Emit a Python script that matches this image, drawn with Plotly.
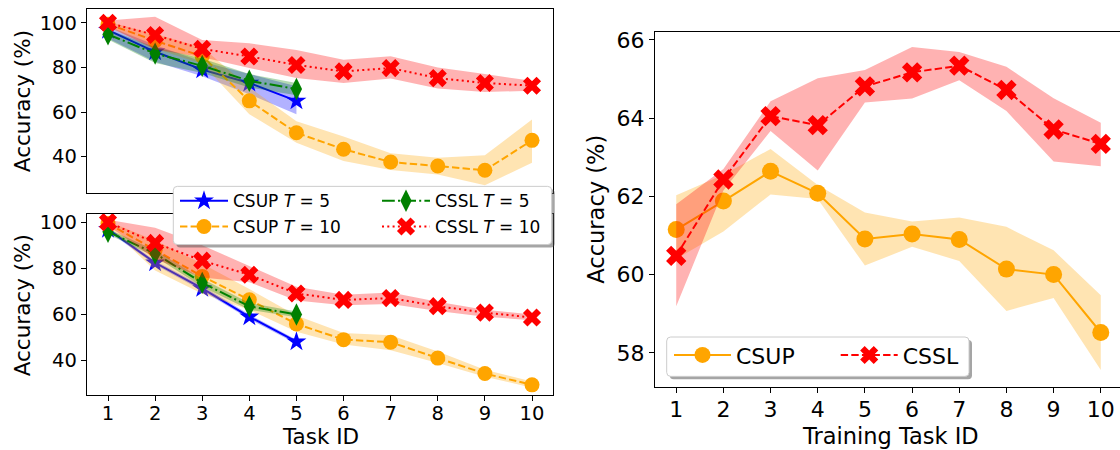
import plotly.graph_objects as go

# ---------------- data ----------------
task_ids_10 = [1, 2, 3, 4, 5, 6, 7, 8, 9, 10]
task_ids_5 = [1, 2, 3, 4, 5]

# top-left panel
top_csup5 = [96.7, 87.0, 79.0, 73.0, 65.0]
top_csup5_lo = [93.0, 82.5, 76.0, 68.0, 59.0]
top_csup5_hi = [98.5, 90.0, 82.5, 77.0, 71.5]
top_cssl5 = [94.8, 86.2, 80.7, 74.0, 70.3]
top_cssl5_lo = [92.5, 82.0, 77.5, 71.0, 67.5]
top_cssl5_hi = [97.0, 89.0, 84.0, 77.0, 73.0]
top_csup10 = [99.4, 92.0, 85.0, 65.0, 50.7, 43.3, 37.6, 35.8, 33.9, 47.3]
top_csup10_lo = [98.0, 88.5, 81.5, 59.0, 46.2, 38.0, 34.0, 32.0, 27.2, 37.3]
top_csup10_hi = [100.5, 95.0, 89.0, 71.0, 55.9, 49.0, 41.5, 39.5, 40.6, 56.6]
top_cssl10 = [100.0, 94.5, 88.3, 84.9, 81.1, 78.2, 79.7, 75.2, 73.0, 71.8]
top_cssl10_lo = [98.5, 88.0, 84.5, 79.7, 75.2, 73.0, 75.0, 70.5, 69.0, 69.5]
top_cssl10_hi = [101.0, 102.7, 92.3, 90.8, 87.8, 83.4, 85.0, 80.0, 77.0, 74.0]

# bottom-left panel
bot_csup5 = [96.9, 82.4, 71.3, 59.0, 48.2]
bot_csup5_lo = [96.0, 81.5, 70.3, 58.0, 47.3]
bot_csup5_hi = [97.8, 83.3, 72.3, 60.0, 49.1]
bot_cssl5 = [95.8, 86.4, 73.7, 63.5, 60.0]
bot_cssl5_lo = [94.8, 85.0, 72.0, 62.0, 58.8]
bot_cssl5_hi = [97.0, 87.8, 75.5, 65.0, 61.3]
bot_csup10 = [99.4, 87.8, 76.5, 66.4, 55.9, 49.1, 48.0, 41.1, 34.4, 29.5]
bot_csup10_lo = [98.3, 79.0, 69.0, 62.0, 52.5, 47.0, 44.5, 39.0, 33.0, 28.3]
bot_csup10_hi = [100.4, 92.0, 82.0, 71.0, 59.5, 52.0, 51.0, 44.0, 36.0, 31.0]
bot_cssl10 = [100.0, 91.0, 83.3, 77.2, 69.1, 66.3, 67.1, 63.6, 60.8, 58.7]
bot_cssl10_lo = [98.5, 84.0, 76.0, 74.0, 66.0, 64.0, 64.5, 61.5, 59.0, 57.5]
bot_cssl10_hi = [101.0, 97.6, 90.0, 81.0, 72.0, 68.5, 69.5, 65.5, 62.0, 60.0]

# right panel
right_csup = [61.15, 61.88, 62.64, 62.08, 60.91, 61.04, 60.90, 60.14, 60.00, 58.52]
right_csup_lo = [60.40, 61.10, 62.05, 61.93, 60.23, 60.71, 60.35, 59.07, 59.40, 57.56]
right_csup_hi = [62.03, 62.55, 63.21, 62.29, 61.59, 61.36, 61.46, 61.22, 60.62, 59.47]
right_cssl = [60.48, 62.43, 64.05, 63.82, 64.81, 65.17, 65.34, 64.72, 63.71, 63.34]
right_cssl_lo = [59.19, 62.15, 63.67, 62.66, 64.40, 64.50, 64.97, 64.18, 62.89, 62.77]
right_cssl_hi = [61.80, 62.70, 64.43, 65.02, 65.23, 65.82, 65.69, 65.31, 64.51, 63.88]

left_yticks = [40, 60, 80, 100]
right_yticks = [58, 60, 62, 64, 66]

label_csup5 = "CSUP <i>T</i> = 5"
label_csup10 = "CSUP <i>T</i> = 10"
label_cssl5 = "CSSL <i>T</i> = 5"
label_cssl10 = "CSSL <i>T</i> = 10"

# ---------------- styling ----------------
W, H = 1120, 450
FONT = "DejaVu Sans"
BLUE, ORANGE, GREEN, RED = "#0000ff", "#ffa500", "#008000", "#ff0000"
FILL = {BLUE: "rgba(0,0,255,0.3)", ORANGE: "rgba(255,165,0,0.3)",
        GREEN: "rgba(0,128,0,0.3)", RED: "rgba(255,0,0,0.3)"}


def px_x(p):
    return p / W


def px_y(p):
    return 1 - p / H


fig = go.Figure()


def band(x, lo, hi, color, xa, ya):
    fig.add_trace(go.Scatter(
        x=list(x) + list(x)[::-1], y=list(hi) + list(lo)[::-1],
        fill="toself", fillcolor=FILL[color], line=dict(width=0),
        mode="lines", hoverinfo="skip", showlegend=False, xaxis=xa, yaxis=ya))


def series(x, y, color, dash, symbol, size, name, xa, ya, legend, show):
    fig.add_trace(go.Scatter(
        x=x, y=y, mode="lines+markers", name=name,
        line=dict(color=color, width=2, dash=dash),
        marker=dict(color=color, symbol=symbol, size=size, line=dict(width=0)),
        xaxis=xa, yaxis=ya, legend=legend, showlegend=show))


DASHED = "7.4px,3.2px"
DOTTED = "2px,3.3px"
DASHDOT = "12.8px,3.2px,2px,3.2px"

for (xa, ya, c5, c5l, c5h, s5, s5l, s5h, c10, c10l, c10h, s10, s10l, s10h, show) in [
    ("x", "y", top_csup5, top_csup5_lo, top_csup5_hi, top_cssl5, top_cssl5_lo, top_cssl5_hi,
     top_csup10, top_csup10_lo, top_csup10_hi, top_cssl10, top_cssl10_lo, top_cssl10_hi, False),
    ("x2", "y2", bot_csup5, bot_csup5_lo, bot_csup5_hi, bot_cssl5, bot_cssl5_lo, bot_cssl5_hi,
     bot_csup10, bot_csup10_lo, bot_csup10_hi, bot_cssl10, bot_cssl10_lo, bot_cssl10_hi, True),
]:
    series(task_ids_5, c5, BLUE, "solid", "star", 15, label_csup5, xa, ya, "legend", show)
    band(task_ids_5, c5l, c5h, BLUE, xa, ya)
    series(task_ids_10, c10, ORANGE, DASHED, "circle", 15, label_csup10, xa, ya, "legend2", show)
    band(task_ids_10, c10l, c10h, ORANGE, xa, ya)
    series(task_ids_5, s5, GREEN, DASHDOT, "diamond-tall", 16, label_cssl5, xa, ya, "legend3", show)
    band(task_ids_5, s5l, s5h, GREEN, xa, ya)
    series(task_ids_10, s10, RED, DOTTED, "x", 16, label_cssl10, xa, ya, "legend4", show)
    band(task_ids_10, s10l, s10h, RED, xa, ya)

series(task_ids_10, right_csup, ORANGE, "solid", "circle", 17, "CSUP", "x3", "y3", "legend5", True)
band(task_ids_10, right_csup_lo, right_csup_hi, ORANGE, "x3", "y3")
series(task_ids_10, right_cssl, RED, DASHED, "x", 18, "CSSL", "x3", "y3", "legend6", True)
band(task_ids_10, right_cssl_lo, right_cssl_hi, RED, "x3", "y3")

axis_common = dict(showline=True, linecolor="black", linewidth=1, ticks="outside",
                   ticklen=5, tickwidth=1, tickcolor="black", showgrid=False,
                   zeroline=False, fixedrange=True)

left_dom_x = [px_x(86.8), px_x(553.2)]
top_dom_y = [px_y(190.7), px_y(5)]
bot_dom_y = [px_y(395), px_y(211.7)]
right_dom_x = [px_x(655), 1.0]
right_dom_y = [px_y(386.7), px_y(28.3)]

lf = dict(family=FONT, size=19.5, color="black")
rf = dict(family=FONT, size=22, color="black")

fig.update_layout(
    width=W, height=H, margin=dict(l=0, r=0, t=0, b=0),
    paper_bgcolor="white", plot_bgcolor="white", font=dict(family=FONT, color="black"),
    xaxis=dict(axis_common, domain=left_dom_x, range=[0.55, 10.45], anchor="y",
               mirror=True, ticks="", showticklabels=False),
    yaxis=dict(axis_common, domain=top_dom_y, range=[23.7, 106.2], anchor="x",
               mirror=True, tickvals=left_yticks, tickfont=lf),
    xaxis2=dict(axis_common, domain=left_dom_x, range=[0.55, 10.45], anchor="y2",
                mirror=True, tickvals=task_ids_10, tickfont=lf, ticklabelstandoff=-5),
    yaxis2=dict(axis_common, domain=bot_dom_y, range=[24.9, 103.6], anchor="x2",
                mirror=True, tickvals=left_yticks, tickfont=lf),
    xaxis3=dict(axis_common, domain=right_dom_x, range=[0.55, 0.55 + 9.9 * 465 / 467],
                anchor="y3", mirror=True, tickvals=task_ids_10, tickfont=rf,
                ticklabelstandoff=-3),
    yaxis3=dict(axis_common, domain=right_dom_y, range=[57.12, 66.2], anchor="x3",
                mirror=False, tickvals=right_yticks, tickfont=rf),
)

# legends: one per entry, placed to mimic matplotlib's boxed legends
leg_common = dict(orientation="v", xanchor="left", yanchor="middle",
                  bgcolor="rgba(0,0,0,0)", borderwidth=0, tracegroupgap=0)
lfont = dict(family=FONT, size=17, color="black")
rfont = dict(family=FONT, size=22, color="black")
fig.update_layout(
    legend=dict(leg_common, x=px_x(175), y=px_y(199), font=lfont, itemwidth=48),
    legend2=dict(leg_common, x=px_x(175), y=px_y(225), font=lfont, itemwidth=48),
    legend3=dict(leg_common, x=px_x(377), y=px_y(199), font=lfont, itemwidth=48),
    legend4=dict(leg_common, x=px_x(377), y=px_y(225), font=lfont, itemwidth=48),
    legend5=dict(leg_common, x=px_x(669), y=px_y(354.3), font=rfont, itemwidth=57),
    legend6=dict(leg_common, x=px_x(835.7), y=px_y(354.3), font=rfont, itemwidth=57),
)


def rounded(x0, y0, x1, y1, r=4):
    rx, ry = r / W, r / H
    X0, X1 = px_x(x0), px_x(x1)
    Y0, Y1 = px_y(y0), px_y(y1)  # Y0 top, Y1 bottom
    return (f"M{X0 + rx},{Y0} L{X1 - rx},{Y0} Q{X1},{Y0} {X1},{Y0 - ry} "
            f"L{X1},{Y1 + ry} Q{X1},{Y1} {X1 - rx},{Y1} L{X0 + rx},{Y1} "
            f"Q{X0},{Y1} {X0},{Y1 + ry} L{X0},{Y0 - ry} Q{X0},{Y0} {X0 + rx},{Y0} Z")


shapes = []
for (x0, y0, x1, y1) in [(173.3, 184, 551.7, 242.7), (666.7, 336, 969, 375.7)]:
    shapes.append(dict(type="path", path=rounded(x0 + 3, y0 + 3, x1 + 3, y1 + 3),
                       xref="paper", yref="paper", fillcolor="rgba(76,76,76,0.5)",
                       line=dict(width=0), layer="above"))
    shapes.append(dict(type="path", path=rounded(x0, y0, x1, y1),
                       xref="paper", yref="paper", fillcolor="white",
                       line=dict(color="#cccccc", width=1), layer="above"))
fig.update_layout(shapes=shapes)

ann = []
tf_l = dict(family=FONT, size=21.5, color="black")
tf_r = dict(family=FONT, size=22.5, color="black")
ann.append(dict(text="Accuracy (%)", x=px_x(22), y=px_y(98), textangle=-90, font=tf_l))
ann.append(dict(text="Accuracy (%)", x=px_x(22), y=px_y(304), textangle=-90, font=tf_l))
ann.append(dict(text="Task ID", x=px_x(320), y=px_y(436), font=tf_l))
ann.append(dict(text="Accuracy (%)", x=px_x(596), y=px_y(207.5), textangle=-90, font=tf_r))
ann.append(dict(text="Training Task ID", x=px_x(890), y=px_y(435.5), font=tf_r))
for a in ann:
    a.update(xref="paper", yref="paper", showarrow=False, xanchor="center",
             yanchor="middle", borderpad=0)
fig.update_layout(annotations=ann)

fig.write_html("out.html")
